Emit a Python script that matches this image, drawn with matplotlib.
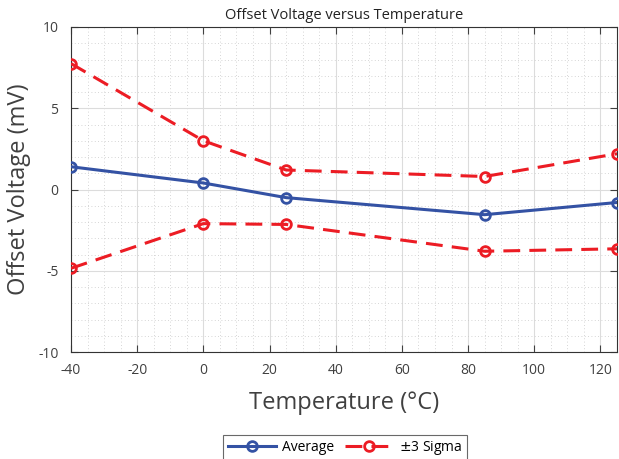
import numpy as np
import matplotlib.pyplot as plt
from matplotlib.ticker import MultipleLocator

plt.rcParams['font.family'] = ['Open Sans', 'DejaVu Sans']
plt.rcParams['axes.unicode_minus'] = False

temps = [-40, 0, 25, 85, 125]
average = [1.4, 0.4, -0.5, -1.55, -0.8]
upper = [7.75, 3.0, 1.2, 0.8, 2.2]
lower = [-4.85, -2.1, -2.15, -3.8, -3.65]

blue = '#3452a4'
red = '#ec1c24'
txt = '#404040'

fig = plt.figure(figsize=(6.19, 4.59), dpi=100)
ax = fig.add_axes([71/619, 107/459, 546/619, 325/459])

ax.plot(temps, average, '-o', color=blue, lw=2.2, ms=7, mfc='none', mew=2, label='Average', zorder=3)
ax.plot(temps, upper, '--o', color=red, lw=2.2, ms=7, mfc='none', mew=2, dashes=(5.5, 3), label='$\\pm$3 Sigma', zorder=3)
ax.plot(temps, lower, '--o', color=red, lw=2.2, ms=7, mfc='none', mew=2, dashes=(5.5, 3), zorder=3)

ax.set_xlim(-40, 125)
ax.set_ylim(-10, 10)
ax.xaxis.set_major_locator(MultipleLocator(20))
ax.xaxis.set_minor_locator(MultipleLocator(5))
ax.yaxis.set_major_locator(MultipleLocator(5))
ax.yaxis.set_minor_locator(MultipleLocator(1))
ax.grid(which='major', color='#dcdcdc', lw=0.8)
ax.grid(which='minor', color='#c8c8c8', lw=0.6, ls=(0, (1, 3)))
ax.set_axisbelow(True)
ax.tick_params(which='both', direction='in', top=True, right=True, colors=txt, labelsize=10)
ax.tick_params(which='minor', length=0)
ax.tick_params(which='major', length=5)
ax.tick_params(axis='x', pad=8)
ax.tick_params(axis='y', pad=9)
for s in ax.spines.values():
    s.set_color('#333333')
    s.set_linewidth(0.8)

ax.set_title('Offset Voltage versus Temperature', fontsize=10.5, color='#222222', pad=6)
ax.set_xlabel('Temperature (°C)', fontsize=17, color=txt, labelpad=9)
ax.set_ylabel('Offset Voltage (mV)', fontsize=17, color=txt, labelpad=5)

leg = fig.legend(loc='lower center', bbox_to_anchor=(345/619, -0.02), ncol=2, fontsize=10,
                 frameon=True, fancybox=False, edgecolor='#444444', handlelength=3.5,
                 columnspacing=0.8, handletextpad=0.4, borderpad=0.3)
leg.get_frame().set_linewidth(0.8)

fig.savefig('out.png', dpi=100)
